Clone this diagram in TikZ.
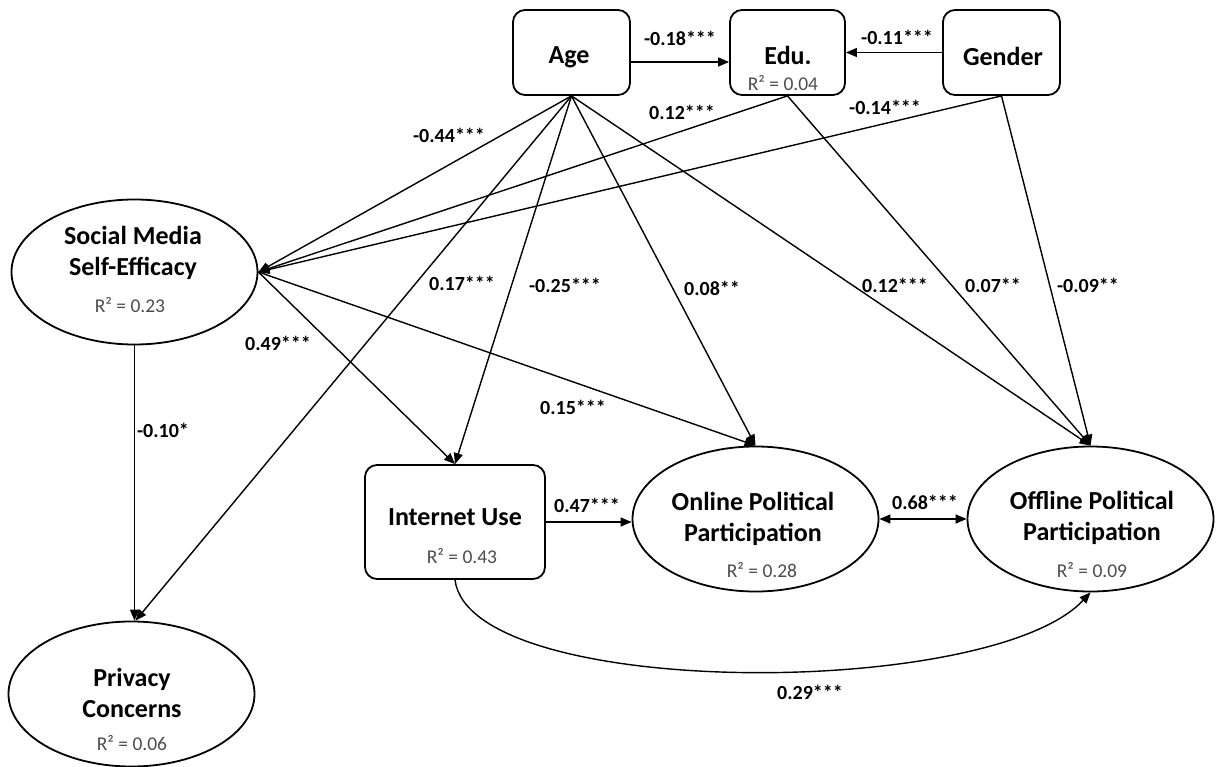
\documentclass[tikz,border=0pt]{standalone}
\usepackage{fontspec}
\setmainfont{Carlito}
\usetikzlibrary{arrows.meta,shapes.geometric}
\begin{document}
\begin{tikzpicture}[x=1pt,y=-1pt,
  boxnode/.style={draw, line width=1.8pt, rounded corners=12pt, inner sep=0pt},
  ovalnode/.style={draw, ellipse, line width=1.8pt, inner sep=0pt, minimum width=246pt, minimum height=145pt},
  titletext/.style={font=\fontsize{26}{31}\selectfont\bfseries, align=center, inner sep=0pt},
  rtext/.style={font=\fontsize{19.5}{22}\selectfont, text=black!70, inner sep=0pt},
  coef/.style={font=\fontsize{20}{24}\selectfont\bfseries, inner sep=0pt},
  conn/.style={line width=1.4pt, -{Triangle[length=11pt,width=9pt]}},
  conntwo/.style={line width=1.4pt, {Triangle[length=11pt,width=9pt]}-{Triangle[length=11pt,width=9pt]}}
]
\useasboundingbox (0,0) rectangle (1216,767);

% shapes
\node[boxnode, minimum width=117pt, minimum height=85pt] (age) at (571.5,52.5) {};
\node[boxnode, minimum width=115pt, minimum height=85pt] (edu) at (787.5,52.5) {};
\node[boxnode, minimum width=117pt, minimum height=85pt] (gender) at (1001.5,52.5) {};
\node[boxnode, minimum width=180pt, minimum height=114pt] (internet) at (455,522) {};
\node[ovalnode] (smse) at (134.5,272) {};
\node[ovalnode] (privacy) at (131.5,694) {};
\node[ovalnode] (online) at (755.5,519) {};
\node[ovalnode] (offline) at (1090.5,519) {};

% titles
\node[titletext] (agetxt) at (569,57) {Age};
\node[titletext] (edutxt) at (788,55) {Edu.};
\node[titletext] (gendertxt) at (1003,56) {Gender};
\node[titletext] (internettxt) at (455,517) {Internet Use};
\node[titletext] (smsetxt) at (133,252.5) {Social Media\\Self-Efficacy};
\node[titletext] (privacytxt) at (132,692.5) {Privacy\\Concerns};
\node[titletext] (onlinetxt) at (753,519) {Online Political\\Participation};
\node[titletext] (offlinetxt) at (1092,517.5) {Offline Political\\Participation};

% R2
\node[rtext] (edur) at (783,83) {R² = 0.04};
\node[rtext] (smser) at (130,305) {R² = 0.23};
\node[rtext] (privacyr) at (132,743) {R² = 0.06};
\node[rtext] (internetr) at (462,556) {R² = 0.43};
\node[rtext] (onliner) at (762,570) {R² = 0.28};
\node[rtext] (offliner) at (1092,570) {R² = 0.09};

% connectors
\draw[conn] ([yshift=-9.5pt]age.east) -- ([yshift=-9.5pt]edu.west);
\draw[conn] (gender.west) -- (edu.east);
\draw[conn] (age.south) -- (smse.east);
\draw[conn] (edu.south) -- (smse.east);
\draw[conn] (gender.south) -- (smse.east);
\draw[conn] (age.south) -- (internet.north);
\draw[conn] (age.south) -- (online.north);
\draw[conn] (age.south) -- (offline.north);
\draw[conn] (age.south) -- ([xshift=4pt]privacy.north);
\draw[conn] (edu.south) -- (offline.north);
\draw[conn] (gender.south) -- (offline.north);
\draw[conn] (smse.east) -- (internet.north);
\draw[conn] (smse.east) -- (online.north);
\draw[conn] (smse.south) -- (smse.south |- privacy.north);
\draw[conn] (internet.east) -- (internet.east -| online.west);
\draw[conntwo] (online.east) -- (offline.west);
\draw[conn] (internet.south) .. controls (470,700) and (990,700) .. (offline.south);

% coefficients
\node[coef] (c1) at (680,38) {-0.18***};
\node[coef] (c2) at (897,37) {-0.11***};
\node[coef] (c3) at (449,135) {-0.44***};
\node[coef] (c4) at (682,112) {0.12***};
\node[coef] (c5) at (885,107) {-0.14***};
\node[coef] (c6) at (462,283) {0.17***};
\node[coef] (c7) at (565,285) {-0.25***};
\node[coef] (c8) at (712,288) {0.08**};
\node[coef] (c9) at (895,285) {0.12***};
\node[coef] (c10) at (993,285) {0.07**};
\node[coef] (c11) at (1088,285) {-0.09**};
\node[coef] (c12) at (278,343) {0.49***};
\node[coef] (c13) at (573,407) {0.15***};
\node[coef] (c14) at (163,430) {-0.10*};
\node[coef] (c15) at (587,505) {0.47***};
\node[coef] (c16) at (925,502) {0.68***};
\node[coef] (c17) at (810,692) {0.29***};
\end{tikzpicture}
\end{document}
